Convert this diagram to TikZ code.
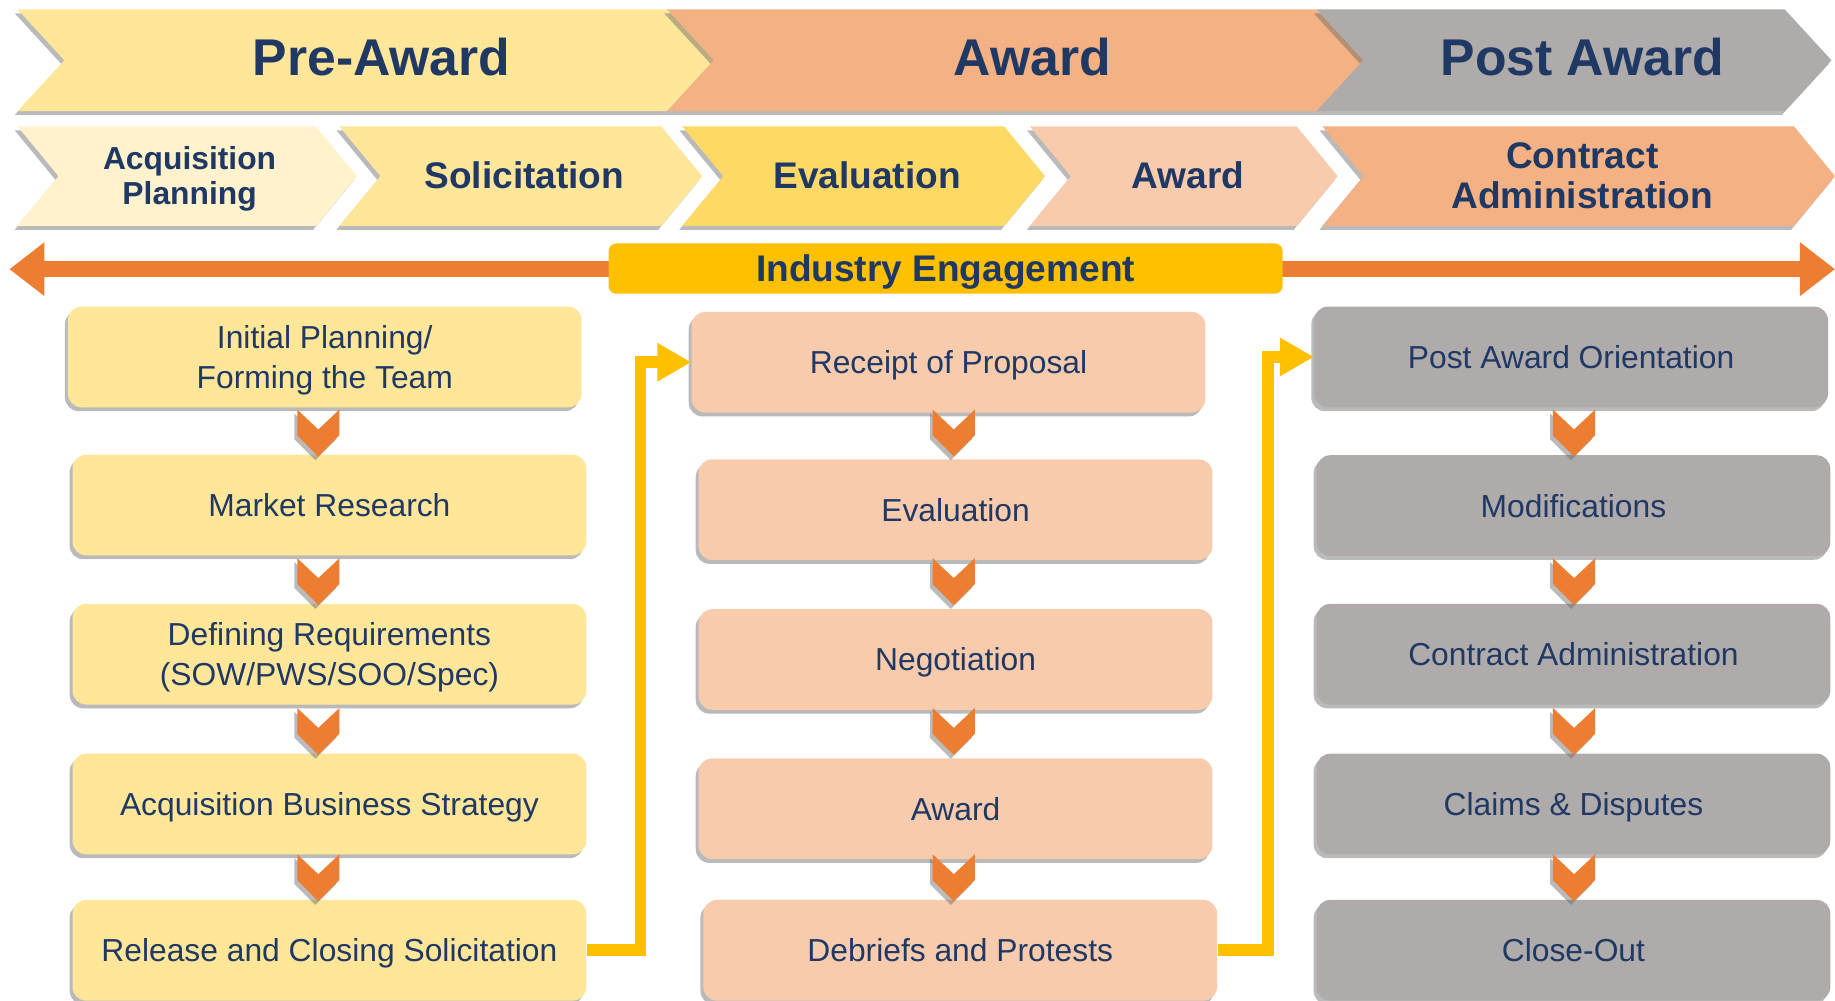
\documentclass[tikz,border=0pt]{standalone}
\usepackage{fontspec}
\setmainfont{Liberation Sans}
\usetikzlibrary{arrows.meta,shadows}
\definecolor{navy}{HTML}{1F3864}
\definecolor{preC}{HTML}{FFE699}
\definecolor{awdC}{HTML}{F4B183}
\definecolor{postC}{HTML}{AFABAB}
\definecolor{acqC}{HTML}{FFF2CC}
\definecolor{evlC}{HTML}{FFD966}
\definecolor{awlC}{HTML}{F8CBAD}
\definecolor{orng}{HTML}{ED7D31}
\definecolor{gold}{HTML}{FFC000}
\begin{document}
\begin{tikzpicture}[x=0.6pt,y=-0.6pt,
  shd/.style={drop shadow={shadow xshift=-1.5pt,shadow yshift=-2pt,opacity=.45,fill=black!60}},
  procbox/.style={shd,rounded corners=7pt,minimum width=263.4pt,minimum height=51.6pt,
    align=center,text=navy,text depth=0pt,font=\fontsize{16.3}{20.4}\selectfont},
  prebox/.style={procbox,fill=preC},
  awdbox/.style={procbox,fill=awlC},
  postbox/.style={procbox,fill=postC},
  conn/.style={draw=gold,line width=6pt,line join=miter,-{Triangle[length=17.4pt,width=18.6pt]}}]
\useasboundingbox (0,0) rectangle (1568,855);
% phases
\foreach \xa/\xb/\col/\xt/\nm/\tx in {15/570/preC/326/hpre/Pre-Award,570/1125/awdC/882/hawd/Award,1125/1525/postC/1352/hpost/Post Award}{
  \fill[\col,shd] (\xa,8) -- (\xb,8) -- ({\xb+40},51.5) -- (\xb,95) -- (\xa,95) -- ({\xa+40},51.5) -- cycle;
  \node[text=navy,font=\bfseries\fontsize{26.5}{30}\selectfont] (\nm) at (\xt,49) {\tx};
}
% steps
\foreach \xa/\xb/\col/\xt/\fs/\bs/\nm/\tx in {15/270/acqC/162/16.3/18/sacq/Acquisition\\Planning,290/565/preC/448/19/20.5/ssol/Solicitation,583/858/evlC/741/19/20.5/seval/Evaluation,880/1108/awlC/1015/19/20.5/saward/Award,1130/1533/awdC/1352/19/20.5/scadm/Contract\\Administration}{
  \fill[\col,shd] (\xa,108) -- (\xb,108) -- ({\xb+35},150.5) -- (\xb,193) -- (\xa,193) -- ({\xa+35},150.5) -- cycle;
  \node[text=navy,align=center,text depth=0pt,font=\bfseries\fontsize{\fs}{\bs}\selectfont] (\nm) at (\xt,150) {\tx};
}
% industry engagement
\coordinate (ieL) at (8,230);
\coordinate (ieR) at (1568,230);
\draw[orng,line width=8.4pt,{Triangle[length=18pt,width=26.4pt]}-{Triangle[length=18pt,width=26.4pt]}] (ieL) -- (ieR);
\node[fill=gold,rounded corners=4pt,minimum width=345.6pt,minimum height=25.8pt,text=navy,
  text height=13.7pt,text depth=0pt,font=\bfseries\fontsize{19}{22}\selectfont] (ie) at (808,229.5) {Industry Engagement};
% pre-award column
\node[prebox] (ipl) at (277.5,305) {Initial Planning/\\Forming the Team};
\node[prebox] (mkt) at (281.5,431.5) {Market Research};
\node[prebox] (req) at (281.5,559) {Defining Requirements\\(SOW/PWS/SOO/Spec)};
\node[prebox] (abs) at (281.5,687) {Acquisition Business Strategy};
\node[prebox] (rcs) at (281.5,812) {Release and Closing Solicitation};
% award column
\node[awdbox] (rop) at (810.5,309.5) {Receipt of Proposal};
\node[awdbox] (evn) at (816.5,435.5) {Evaluation};
\node[awdbox] (ngt) at (816.5,563.5) {Negotiation};
\node[awdbox] (awn) at (816.5,691) {Award};
\node[awdbox] (dbp) at (820.5,812) {Debriefs and Protests};
% post award column
\node[postbox] (pao) at (1342.5,305) {Post Award Orientation};
\node[postbox] (mod) at (1344.5,432) {Modifications};
\node[postbox] (cad) at (1344.5,559) {Contract Administration};
\node[postbox] (cld) at (1344.5,687) {Claims \& Disputes};
\node[postbox] (clo) at (1344.5,812) {Close-Out};
% down chevrons
\foreach \x in {272,815,1345}
  \foreach \y in {350,477,605,730}
    \fill[orng,shd] ({\x-18},\y) -- (\x,{\y+17}) -- ({\x+18},\y) -- ({\x+18},{\y+22}) -- (\x,{\y+40}) -- ({\x-18},{\y+22}) -- cycle;
\draw[conn] (rcs.east) -- ++(46,0) |- (rop.west);
\draw[conn] (dbp.east) -- ++(43,0) |- (pao.west);
\end{tikzpicture}
\end{document}
